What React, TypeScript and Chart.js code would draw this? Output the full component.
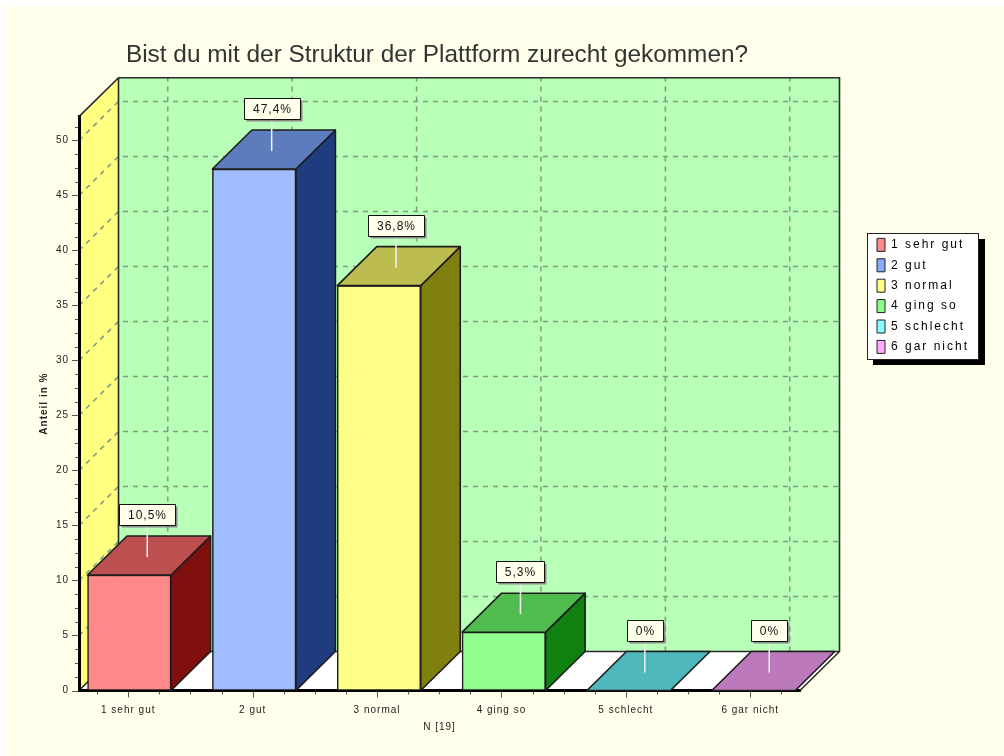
import React, { useEffect, useRef } from "react";
import { Chart, registerables } from "chart.js";

Chart.register(...registerables);

const categories = ["1 sehr gut", "2 gut", "3 normal", "4 ging so", "5 schlecht", "6 gar nicht"];
const shareValues = [10.5, 47.4, 36.8, 5.3, 0, 0];
const valueLabels = ["10,5%", "47,4%", "36,8%", "5,3%", "0%", "0%"];
const tickPositions = [0, 1, 2, 3, 4, 5];
const frontColors = ["#FF8888", "#A0BEFF", "#FFFF88", "#90FF90", "#88FFFF", "#FFAAFF"];
const legendColors = ["#FF8888", "#88AAFF", "#FFFF88", "#88FF88", "#88FFFF", "#FFAAFF"];
const topColors = ["#BC5050", "#5C7CBC", "#BCBC50", "#50BC50", "#4EB8BC", "#BC7ABC"];
const sideColors = ["#801010", "#1E3C7E", "#808010", "#108010", "#108080", "#801080"];
const yMajorStep = 5;
const yMinorStep = 1.25;
const xMinorStep = 0.25;
const titleText = "Bist du mit der Struktur der Plattform zurecht gekommen?";

const DX = 39.5;
const DY = -39;
const FONT = "'Liberation Sans', Arial, sans-serif";

const threeD = {
  id: "threeD",
  afterLayout(chart: any) {
    const legend = chart.legend;
    if (legend) {
      legend.left = 869.6;
      legend.right = 985;
      legend.top = 231;
      legend.bottom = 370;
      legend.width = 115.4;
      legend.height = 139;
      if (!legend.__wrapped) {
        legend.__wrapped = true;
        const d = legend.draw.bind(legend);
        legend.draw = (a: any) => {
          chart.ctx.save();
          chart.ctx.letterSpacing = "2px";
          d(a);
          chart.ctx.restore();
        };
      }
    }
    const tb = chart.titleBlock;
    if (tb && !tb.__wrapped) {
      tb.__wrapped = true;
      const d = tb.draw.bind(tb);
      tb.draw = (a: any) => {
        chart.ctx.save();
        chart.ctx.letterSpacing = "0px";
        chart.ctx.translate(-2.5, 0);
        d(a);
        chart.ctx.restore();
      };
    }
  },
  beforeDraw(chart: any) {
    const { ctx, chartArea: ca, scales } = chart;
    const { x, y } = scales;
    ctx.letterSpacing = "1px";
    ctx.save();
    ctx.letterSpacing = "0px";
    // page panel
    ctx.fillStyle = "#FFFFEC";
    ctx.fillRect(6, 6, chart.width - 6, chart.height - 6);

    const L = ca.left, R = ca.right, T = ca.top, B = ca.bottom;
    // back wall
    ctx.fillStyle = "#B8FFB8";
    ctx.fillRect(L + DX, T + DY, R - L, B - T);
    // left wall
    ctx.fillStyle = "#FFFF80";
    ctx.beginPath();
    ctx.moveTo(L, B);
    ctx.lineTo(L + DX, B + DY);
    ctx.lineTo(L + DX, T + DY);
    ctx.lineTo(L, T);
    ctx.closePath();
    ctx.fill();
    // floor
    ctx.fillStyle = "#FFFFFF";
    ctx.beginPath();
    ctx.moveTo(L, B);
    ctx.lineTo(L + DX, B + DY);
    ctx.lineTo(R + DX, B + DY);
    ctx.lineTo(R, B);
    ctx.closePath();
    ctx.fill();

    // grid
    ctx.strokeStyle = "#7F9A7F";
    ctx.lineWidth = 1.5;
    ctx.setLineDash([5, 5]);
    for (let v = yMajorStep; y.getPixelForValue(v) > T; v += yMajorStep) {
      const py = y.getPixelForValue(v);
      ctx.beginPath();
      ctx.moveTo(L, py);
      ctx.lineTo(L + DX, py + DY);
      ctx.lineTo(R + DX, py + DY);
      ctx.stroke();
    }
    for (const t of tickPositions) {
      const px = x.getPixelForValue(t) + DX;
      ctx.beginPath();
      ctx.moveTo(px, B + DY);
      ctx.lineTo(px, T + DY);
      ctx.stroke();
    }
    ctx.setLineDash([]);

    // wall outlines
    ctx.strokeStyle = "#2A2A2A";
    ctx.lineWidth = 1.6;
    ctx.beginPath();
    ctx.moveTo(L, T);
    ctx.lineTo(L + DX, T + DY);
    ctx.lineTo(R + DX, T + DY);
    ctx.lineTo(R + DX, B + DY);
    ctx.lineTo(R, B);
    ctx.moveTo(L, B);
    ctx.lineTo(L + DX, B + DY);
    ctx.lineTo(R + DX, B + DY);
    ctx.moveTo(L + DX, T + DY);
    ctx.lineTo(L + DX, B + DY);
    ctx.stroke();

    // tick marks
    ctx.strokeStyle = "#555555";
    ctx.lineWidth = 1;
    for (let v = 0; y.getPixelForValue(v) >= T; v += yMinorStep) {
      const py = Math.round(y.getPixelForValue(v)) + 0.5;
      const major = v % yMajorStep === 0;
      ctx.beginPath();
      ctx.moveTo(L - (major ? 7 : 4), py);
      ctx.lineTo(L, py);
      ctx.stroke();
    }
    const xFirst = Math.ceil(x.min / xMinorStep) * xMinorStep;
    for (let v = xFirst; v <= x.max; v += xMinorStep) {
      const px = Math.round(x.getPixelForValue(v)) + 0.5;
      const major = Number.isInteger(v);
      ctx.beginPath();
      ctx.moveTo(px, B);
      ctx.lineTo(px, B + (major ? 7 : 4));
      ctx.stroke();
    }

    // legend frame
    ctx.fillStyle = "#000000";
    ctx.fillRect(873, 239, 112, 126);
    ctx.fillStyle = "#FFFFFF";
    ctx.fillRect(867.5, 233.5, 111, 126);
    ctx.strokeStyle = "#222222";
    ctx.strokeRect(867.5, 233.5, 111, 126);
    ctx.restore();
  },
  afterDatasetsDraw(chart: any) {
    const { ctx, scales } = chart;
    const meta = chart.getDatasetMeta(0);
    ctx.save();
    ctx.lineJoin = "round";
    meta.data.forEach((bar: any, i: number) => {
      const l = bar.x - bar.width / 2;
      const r = bar.x + bar.width / 2;
      const top = bar.y;
      const base = bar.base;
      ctx.strokeStyle = "#1C1C1C";
      ctx.lineWidth = 1.6;
      if (base - top > 0.5) {
        ctx.fillStyle = sideColors[i];
        ctx.beginPath();
        ctx.moveTo(r, top);
        ctx.lineTo(r + DX, top + DY);
        ctx.lineTo(r + DX, base + DY);
        ctx.lineTo(r, base);
        ctx.closePath();
        ctx.fill();
        ctx.stroke();
      }
      ctx.fillStyle = topColors[i];
      ctx.beginPath();
      ctx.moveTo(l, top);
      ctx.lineTo(l + DX, top + DY);
      ctx.lineTo(r + DX, top + DY);
      ctx.lineTo(r, top);
      ctx.closePath();
      ctx.fill();
      ctx.stroke();
    });

    // value labels with leader lines
    meta.data.forEach((bar: any, i: number) => {
      const cx = scales.x.getPixelForValue(tickPositions[i]) + 19;
      const boxBottom = Math.round(bar.y - 50);
      ctx.font = `12px ${FONT}`;
      ctx.letterSpacing = "1px";
      const w = Math.round(ctx.measureText(valueLabels[i]).width + 17);
      const h = 21;
      ctx.strokeStyle = "#F2F2F2";
      ctx.lineWidth = 1.5;
      ctx.beginPath();
      ctx.moveTo(cx, boxBottom);
      ctx.lineTo(cx, bar.y - 18);
      ctx.stroke();
      const bx = Math.round(cx - w / 2) + 0.5;
      const by = boxBottom - h + 0.5;
      ctx.fillStyle = "#8A8A8A";
      ctx.fillRect(bx + 2, by + 2, w, h);
      ctx.fillStyle = "#FFFFEC";
      ctx.fillRect(bx, by, w, h);
      ctx.strokeStyle = "#111111";
      ctx.lineWidth = 1;
      ctx.strokeRect(bx, by, w, h);
      ctx.fillStyle = "#111111";
      ctx.textAlign = "center";
      ctx.textBaseline = "middle";
      ctx.fillText(valueLabels[i], bx + w / 2, by + h / 2 + 0.5);
    });
    ctx.restore();
  },
};

export default function App() {
  const ref = useRef<HTMLCanvasElement | null>(null);
  useEffect(() => {
    if (!ref.current) return;
    const chart = new Chart(ref.current, {
      type: "bar",
      data: {
        datasets: [
          {
            label: "Anteil in %",
            xAxisID: "xb",
            yAxisID: "y",
            data: shareValues.map((v, i) => ({ x: tickPositions[i], y: v })),
            backgroundColor: frontColors,
            borderColor: "#1C1C1C",
            borderWidth: 1.5,
            borderSkipped: false,
            barThickness: 83.5,
          },
        ],
      },
      options: {
        animation: false,
        responsive: false,
        layout: { padding: { right: 204 } },
        plugins: {
          tooltip: { enabled: false },
          title: {
            display: true,
            text: titleText,
            color: "#333333",
            fullSize: false,
            font: { family: FONT, size: 24.4, weight: "normal", lineHeight: 1.2 },
            padding: { top: 41, bottom: 46.4 },
          },
          legend: {
            display: true,
            position: "chartArea",
            align: "start",
            labels: {
              boxWidth: 8,
              boxHeight: 13,
              padding: 7.4,
              color: "#222222",
              font: { family: FONT, size: 12 },
              generateLabels: () =>
                categories.map((text, i) => ({
                  text,
                  fillStyle: legendColors[i],
                  strokeStyle: "#222222",
                  lineWidth: 1,
                  hidden: false,
                  index: i,
                  datasetIndex: 0,
                })),
            },
          },
        },
        scales: {
          x: {
            type: "linear",
            position: "bottom",
            offset: false,
            min: -0.396,
            max: 5.4,
            grid: { display: false, drawTicks: false, offset: false },
            border: { display: true, color: "#000000", width: 3 },
            afterFit: (s: any) => {
              s.height = 65.5;
            },
            afterBuildTicks: (s: any) => {
              s.ticks = tickPositions.map((value) => ({ value }));
            },
            ticks: {
              autoSkip: false,
              maxRotation: 0,
              padding: 14,
              color: "#222222",
              font: { family: FONT, size: 10 },
              callback: (v: any) => categories[v as number] ?? "",
            },
            title: {
              display: true,
              text: "N [19]",
              color: "#222222",
              font: { family: FONT, size: 10 },
              padding: { top: 0, bottom: 23 },
            },
          },
          xb: {
            type: "linear",
            display: false,
            position: "bottom",
            offset: false,
            min: -0.4029,
            max: 5.372,
            grid: { display: false, offset: false },
            afterFit: (s: any) => {
              s.height = 0;
            },
          },
          y: {
            type: "linear",
            min: 0,
            max: 52.16,
            grid: { display: false, drawTicks: false },
            border: { display: true, color: "#000000", width: 3 },
            afterFit: (s: any) => {
              s.width = 79;
            },
            ticks: {
              stepSize: yMajorStep,
              includeBounds: false,
              padding: 10,
              color: "#222222",
              font: { family: FONT, size: 10 },
            },
            title: {
              display: true,
              text: "Anteil in %",
              color: "#222222",
              font: { family: FONT, size: 10, weight: "bold" },
              padding: { top: 38, bottom: 0 },
            },
          },
        },
      } as any,
      plugins: [threeD],
    });
    return () => chart.destroy();
  }, []);
  return (
    <canvas
      ref={ref}
      width={1004}
      height={756}
      style={{ position: "absolute", left: 0, top: 0, width: 1004, height: 756, background: "#FFFFFF" }}
    />
  );
}
